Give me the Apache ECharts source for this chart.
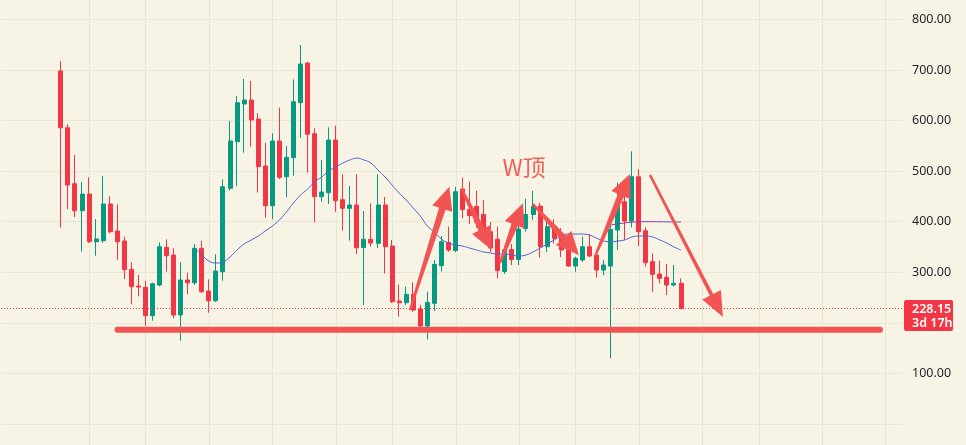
<!DOCTYPE html>
<html><head><meta charset="utf-8">
<style>html,body{margin:0;padding:0;background:#f8f4e5;}#c{width:966px;height:445px;}</style>
<script src="https://cdn.jsdelivr.net/npm/echarts@6/dist/echarts.min.js"></script>
</head><body><div id="c"></div>
<script>
// ---- data ----
const opens = [697.9,585.7,475.0,421.6,454.6,360.3,362.3,434.9,381.5,361.7,305.7,272.7,270.1,214.0,274.7,349.2,334.0,215.4,284.6,279.2,
347.3,262.8,243.6,301.0,465.9,558.1,632.6,640.5,602.9,510.0,431.5,559.4,488.8,526.4,635.2,713.7,573.9,449.3,457.2,561.4,
443.4,426.4,432.9,348.8,365.0,357.1,432.9,351.8,243.0,239.7,256.3,227.2,193.6,238.5,312.8,359.1,342.9,464.5,424.0,430.0,
414.5,380.1,365.2,301.4,344.9,325.1,386.4,414.1,430.9,350.4,391.0,369.6,343.9,312.2,324.1,350.4,334.0,304.3,312.2,383.4,
439.4,401.2,488.8,382.1,320.8,296.4,289.9,274.7,278.0];
const closes = [585.7,472.4,421.6,454.6,360.3,365.6,434.9,380.1,360.3,304.9,271.3,270.7,214.0,277.2,350.4,332.6,215.4,284.6,279.2,347.3,
261.4,243.6,302.4,469.1,559.4,635.2,640.5,601.0,508.6,431.5,559.4,487.7,527.2,637.2,711.7,572.7,449.3,458.6,561.4,441.4,
426.4,432.9,348.4,365.2,357.7,432.9,350.4,241.7,239.7,256.3,225.2,193.6,240.5,315.6,360.3,343.9,459.2,424.0,412.0,398.7,
380.1,347.8,303.3,343.9,325.1,385.4,414.1,429.9,350.4,390.0,367.0,343.9,312.2,327.5,350.4,332.0,304.3,314.2,384.8,432.9,
401.2,488.8,380.1,318.8,295.8,287.9,274.7,278.0,228.15];
const lows = [388.0,425.0,409.1,340.5,358.0,332.6,358.3,376.9,324.7,286.5,236.5,252.3,194.2,204.1,272.0,301.0,208.8,164.5,256.3,274.7,
259.0,219.9,241.0,283.2,461.2,470.5,536.3,548.2,457.6,407.8,404.6,484.3,448.1,490.8,566.0,496.7,398.7,439.4,434.9,419.6,
382.1,362.3,336.0,235.1,350.4,347.8,297.4,239.1,212.0,235.1,221.9,182.3,167.3,223.3,301.0,340.5,339.3,406.6,395.0,388.0,
371.6,339.9,287.9,296.4,314.2,314.2,380.1,403.2,329.1,339.9,356.4,330.0,311.3,301.0,320.8,330.6,289.1,294.4,129.7,343.9,
363.7,388.8,351.8,310.9,261.4,278.0,254.9,272.0,227.0];
const highs = [717.6,592.5,531.7,478.4,487.7,405.2,490.2,450.1,434.3,370.2,319.6,294.4,283.2,279.2,359.1,365.0,347.3,319.6,299.0,355.8,
362.3,286.0,335.4,483.7,599.0,648.4,682.0,678.1,614.2,556.1,574.7,625.3,549.5,681.5,749.3,716.0,584.5,521.9,586.5,589.7,
493.6,470.5,493.6,421.0,436.2,493.6,448.7,363.7,275.7,271.3,280.0,235.1,261.4,324.1,371.6,390.0,469.1,487.3,479.0,461.0,
442.8,399.3,390.0,347.8,355.8,419.6,445.1,460.6,437.4,406.2,404.6,387.4,351.8,330.6,370.2,375.5,336.0,324.1,396.7,477.0,
456.0,539.1,503.5,388.8,337.4,322.7,316.2,314.2,287.9];
// fast moving average (starts at candle 19)
const maStart = 19;
const maValues = [347.8,334.0,322.1,318.2,320.2,330.0,343.9,355.8,363.7,371.6,381.5,
391.3,403.2,419.0,436.8,452.6,464.5,478.4,488.2,500.1,508.0,
515.9,521.9,525.8,521.9,515.9,502.1,488.2,472.4,456.6,442.8,
426.9,411.1,391.3,379.5,365.6,357.7,353.8,351.8,347.8,343.9,
339.9,338.0,336.0,336.0,334.0,332.0,334.0,339.9,347.8,355.8,
363.7,371.6,375.5,375.5,375.5,373.5,367.6,361.7,359.7,361.7,
363.7,369.6,371.6,371.6,369.6,363.7,357.7,349.8,343.9];
// slow moving average (starts at candle 78)
const slowStart = 78;
const slowValues = [393.3,395.5,397.5,399.0,399.8,400.0,400.0,399.8,399.6,399.4,399.2];
// price-scale labels shown (200 is hidden behind the last-price tag)
const yTickLabels = [100,300,400,500,600,700,800];
const lastPrice = 228.15;
const countdown = '3d 17h';
// annotations, in candle-index / price units
const supportLine = [[8.03,186.3],[116.23,186.3]];
const arrows = [
  [49.54,225.2,55.12,469.1],
  [56.88,464.5,61.13,343.9],
  [62.31,318.2,65.57,436.2],
  [66.99,434.9,73.52,334.0],
  [75.79,331.0,80.76,494.2],
  [83.60,492.2,93.95,211.4]
];
const wLabel = 'W顶';
const wLabelAt = [65.72,508.0];
const timeGridIdx = [4,12,21,30,39,47,56,65,73,82,91,99,108,117];

// ---- build ----
const pad = 8, totalSlots = 128;
const slots = [], candleData = [], maData = [], slowData = [];
for (let k = 0; k < totalSlots; k++) {
  const i = k - pad;
  slots.push('c' + k);
  if (i >= 0 && i < opens.length) candleData.push([opens[i], closes[i], lows[i], highs[i]]);
  else candleData.push('-');
  const m = i - maStart;
  maData.push(m >= 0 && m < maValues.length ? maValues[m] : '-');
  const s = i - slowStart;
  slowData.push(s >= 0 && s < slowValues.length ? slowValues[s] : '-');
}

const RED = '#f23645', GREEN = '#089981', ANN = '#f25353', GRIDC = '#ebe6d3';
const chart = echarts.init(document.getElementById('c'), null, {renderer:'canvas'});
const option = {
  backgroundColor: '#f8f4e5',
  animation: false,
  grid: {left: 1, right: 63, top: -31.2, bottom: -29.5, containLabel: false, outerBoundsMode: 'none'},
  xAxis: [
    {type: 'category', data: slots, boundaryGap: true, show: false},
    {type: 'value', min: -pad - 0.5, max: totalSlots - pad - 0.5, show: false}
  ],
  yAxis: [{
    type: 'value', position: 'right', min: -100, max: 900, interval: 100, scale: false,
    axisLine: {show: false}, axisTick: {show: false},
    splitLine: {show: true, lineStyle: {color: GRIDC, width: 1}},
    axisLabel: {margin: 9, color: '#1e222d', fontSize: 12.5, fontFamily: 'Noto Sans',
      formatter: v => yTickLabels.indexOf(v) >= 0 ? v.toFixed(2) : ''}
  }],
  series: [
    {
      type: 'custom', xAxisIndex: 1, yAxisIndex: 0, silent: true, z: 0,
      data: timeGridIdx.map(v => [v, 0]),
      renderItem: (params, api) => {
        const cs = params.coordSys;
        const x = Math.round(api.coord([api.value(0), 0])[0]) + 0.5;
        return {type: 'line', shape: {x1: x, y1: cs.y, x2: x, y2: cs.y + cs.height},
          style: {stroke: GRIDC, lineWidth: 1}};
      }
    },
    {
      type: 'candlestick', xAxisIndex: 0, yAxisIndex: 0, silent: true, z: 2,
      data: candleData, barWidth: 4.5,
      itemStyle: {color: GREEN, color0: RED, borderColor: GREEN, borderColor0: RED, borderWidth: 1},
      markLine: {
        silent: true, symbol: 'none', animation: false,
        label: {show: false},
        lineStyle: {color: RED, width: 1, type: [1, 2]},
        data: [{yAxis: lastPrice}]
      }
    },
    {
      type: 'line', xAxisIndex: 0, yAxisIndex: 0, silent: true, z: 3,
      data: maData, smooth: 0.4, showSymbol: false, connectNulls: false,
      lineStyle: {color: '#4f62d6', width: 1}
    },
    {
      type: 'line', xAxisIndex: 0, yAxisIndex: 0, silent: true, z: 3,
      data: slowData, smooth: 0.4, showSymbol: false,
      lineStyle: {color: '#8a3aa8', width: 1}
    },
    {
      type: 'line', xAxisIndex: 1, yAxisIndex: 0, silent: true, z: 5,
      data: supportLine, showSymbol: false,
      lineStyle: {color: ANN, width: 6, cap: 'round'}
    },
    {
      type: 'custom', xAxisIndex: 1, yAxisIndex: 0, silent: true, z: 6,
      data: arrows,
      encode: {x: [0, 2], y: [1, 3]},
      renderItem: (params, api) => {
        const p0 = api.coord([api.value(0), api.value(1)]);
        const p1 = api.coord([api.value(2), api.value(3)]);
        const dx = p1[0] - p0[0], dy = p1[1] - p0[1];
        const len = Math.hypot(dx, dy);
        const ux = dx / len, uy = dy / len, nx = -uy, ny = ux;
        const thin = params.dataIndex === arrows.length - 1;
        const hl = thin ? 25 : 23, hw = thin ? 10.5 : 10.5, w0 = thin ? 1.3 : 1.1, w1 = thin ? 1.9 : 3.4;
        const bx = p1[0] - ux * hl, by = p1[1] - uy * hl;
        const pts = [
          [p0[0] + nx * w0, p0[1] + ny * w0],
          [bx + nx * w1, by + ny * w1],
          [bx + nx * hw, by + ny * hw],
          [p1[0], p1[1]],
          [bx - nx * hw, by - ny * hw],
          [bx - nx * w1, by - ny * w1],
          [p0[0] - nx * w0, p0[1] - ny * w0]
        ];
        return {type: 'polygon', shape: {points: pts}, style: {fill: ANN}};
      }
    }
  ]
};
chart.setOption(option);

const py = chart.convertToPixel({yAxisIndex: 0}, lastPrice);
const wp = chart.convertToPixel({seriesIndex: 5}, wLabelAt);
const gridRightX = 966 - 63;
chart.setOption({
  graphic: [
    {
      type: 'group', x: gridRightX + 1, y: Math.round(py) - 9, z: 100,
      children: [
        {type: 'rect', z: 100, shape: {x: 0, y: 0, width: 49, height: 31, r: 2}, style: {fill: RED}},
        {type: 'text', z: 101, x: 8, y: 9.5, style: {text: lastPrice.toFixed(2), fill: '#ffffff',
          font: '600 12.5px "Noto Sans"', verticalAlign: 'middle', textVerticalAlign: 'middle'}},
        {type: 'text', z: 101, x: 8, y: 23, style: {text: countdown, fill: '#ffffff',
          font: '600 12.5px "Noto Sans"', verticalAlign: 'middle', textVerticalAlign: 'middle'}}
      ]
    },
    {
      type: 'text', x: wp[0], y: wp[1], z: 100,
      style: {text: wLabel, fill: '#f1605b', font: '23px "Noto Sans CJK SC"',
        align: 'center', textAlign: 'center', verticalAlign: 'middle', textVerticalAlign: 'middle'}
    }
  ]
});
</script>
</body></html>
